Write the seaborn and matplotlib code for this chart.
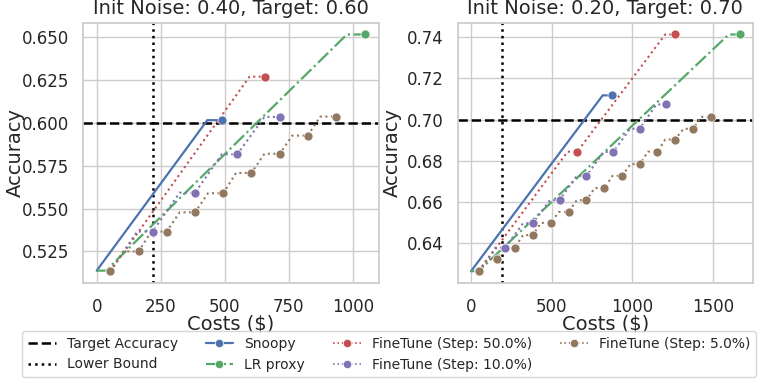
import matplotlib
matplotlib.use("Agg")
import matplotlib.pyplot as plt
from matplotlib.lines import Line2D
import seaborn as sns

sns.set_theme(style="whitegrid", palette="deep")
plt.rcParams["font.family"] = ["DejaVu Sans"]

# panel settings
titles = ["Init Noise: 0.40, Target: 0.60", "Init Noise: 0.20, Target: 0.70"]
targets = [0.60, 0.70]
lower_bounds = [221, 190]
eval_cost = 60  # flat part before each evaluation point

# Snoopy (solid line, marker at end)
snoopy_x = [[0, 432, 490], [0, 817, 875]]
snoopy_y = [[0.5138, 0.6016, 0.6016], [0.6265, 0.7117, 0.7117]]

# LR proxy (dash-dot line, marker at end)
lr_x = [[0, 36, 977, 1049], [0, 46, 1599, 1667]]
lr_y = [[0.5138, 0.5138, 0.6516, 0.6516], [0.6265, 0.6265, 0.7412, 0.7412]]

# FineTune evaluation points
ft50_x = [[53, 657], [49, 659, 1265]]
ft50_y = [[0.5135, 0.6270], [0.6265, 0.6844, 0.7412]]

ft10_x = [[53, 218, 384, 549, 715],
          [49, 212, 383, 549, 716, 883, 1046, 1210]]
ft10_y = [[0.5135, 0.5366, 0.5593, 0.5817, 0.6035],
          [0.6265, 0.6379, 0.6497, 0.6609, 0.6727, 0.6843, 0.6955, 0.7073]]

ft5_x = [[53, 164, 273, 384, 495, 604, 715, 824, 933],
         [49, 160, 270, 383, 494, 605, 716, 827, 938, 1049, 1157, 1265, 1379, 1486]]
ft5_y = [[0.5135, 0.5250, 0.5366, 0.5478, 0.5590, 0.5708, 0.5820, 0.5926, 0.6037],
         [0.6265, 0.6324, 0.6379, 0.6440, 0.6499, 0.6552, 0.6609, 0.6668, 0.6727,
          0.6784, 0.6844, 0.6903, 0.6955, 0.7013]]

pal = sns.color_palette("deep")
c_snoopy, c_lr, c_50, c_10, c_5 = pal[0], pal[2], pal[3], pal[4], pal[5]
MS = 42


def step_path(xs, ys):
    # train (rise) then evaluate (flat) before each evaluation point
    px, py = [xs[0]], [ys[0]]
    for x, y in zip(xs[1:], ys[1:]):
        px += [x - eval_cost, x]
        py += [y, y]
    return px, py


fig, axes = plt.subplots(1, 2, figsize=(7.78, 3.84), dpi=100)
fig.subplots_adjust(left=0.107, right=0.968, top=0.941, bottom=0.263, wspace=0.267)

for i, ax in enumerate(axes):
    ax.axhline(targets[i], color="black", ls="--", lw=1.8, zorder=1)
    ax.axvline(lower_bounds[i], color="black", ls=":", lw=1.8, zorder=1)

    sns.lineplot(x=snoopy_x[i], y=snoopy_y[i], estimator=None, sort=False,
                 color=c_snoopy, lw=1.6, ax=ax)
    sns.scatterplot(x=snoopy_x[i][-1:], y=snoopy_y[i][-1:], color=c_snoopy,
                    s=MS, edgecolor="white", linewidth=0.5, zorder=3, ax=ax)

    sns.lineplot(x=lr_x[i], y=lr_y[i], estimator=None, sort=False,
                 color=c_lr, lw=1.6, ls="-.", ax=ax)
    sns.scatterplot(x=lr_x[i][-1:], y=lr_y[i][-1:], color=c_lr,
                    s=MS, edgecolor="white", linewidth=0.5, zorder=3, ax=ax)

    for fx, fy, col in [(ft50_x, ft50_y, c_50), (ft10_x, ft10_y, c_10), (ft5_x, ft5_y, c_5)]:
        px, py = step_path(fx[i], fy[i])
        sns.lineplot(x=px, y=py, estimator=None, sort=False,
                     color=col, lw=1.5, ls=":", ax=ax)
        sns.scatterplot(x=fx[i], y=fy[i], color=col, s=MS,
                        edgecolor="white", linewidth=0.5, zorder=3, ax=ax)

    ax.set_title(titles[i], fontsize=14)
    ax.set_xlabel("Costs ($)", fontsize=14, labelpad=-1)
    ax.set_ylabel("Accuracy", fontsize=14)
    ax.tick_params(axis="x", labelsize=12, pad=5)
    ax.tick_params(axis="y", labelsize=12, pad=4)

axes[0].yaxis.set_label_coords(-0.199, 0.5)
axes[1].yaxis.set_label_coords(-0.189, 0.5)
axes[1].set_yticks([0.64, 0.66, 0.68, 0.70, 0.72, 0.74])

handles = [
    Line2D([], [], color="black", ls="--", lw=1.8),
    Line2D([], [], color="black", ls=":", lw=1.8),
    Line2D([], [], color=c_snoopy, lw=1.6, marker="o", ms=6, mec="white", mew=0.5),
    Line2D([], [], color=c_lr, lw=1.6, ls="-.", marker="o", ms=6, mec="white", mew=0.5),
    Line2D([], [], color=c_50, lw=1.2, ls=":", marker="o", ms=6, mec="white", mew=0.5),
    Line2D([], [], color=c_10, lw=1.2, ls=":", marker="o", ms=6, mec="white", mew=0.5),
    Line2D([], [], color=c_5, lw=1.2, ls=":", marker="o", ms=6, mec="white", mew=0.5),
]
labels = ["Target Accuracy", "Lower Bound", "Snoopy", "LR proxy",
          "FineTune (Step: 50.0%)", "FineTune (Step: 10.0%)", "FineTune (Step: 5.0%)"]
fig.legend(handles, labels, loc="lower center", bbox_to_anchor=(0.5, 0.0), ncol=4,
           fontsize=10, frameon=True)

fig.savefig("out.png", dpi=100)
